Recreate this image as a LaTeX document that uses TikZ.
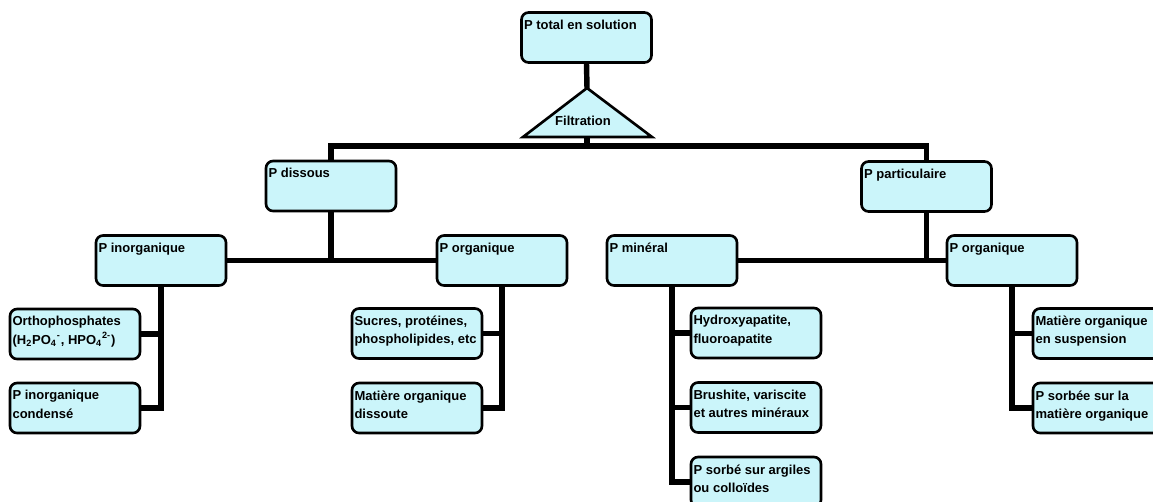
\documentclass[tikz,border=0pt]{standalone}
\usepackage{fontspec}
\setmainfont{Liberation Sans}
\definecolor{boxfill}{RGB}{203,245,250}
\tikzset{
  box/.style={draw=black, line width=1.5pt, rounded corners=0.14cm, fill=boxfill,
              minimum width=2.6cm, minimum height=1.0cm, inner sep=0pt},
  txt/.style={anchor=north west, inner sep=0pt, align=left, xshift=0.07cm, yshift=-0.17cm,
              font=\fontsize{7.4}{10.3}\selectfont\bfseries},
  conn/.style={line width=3.1pt, draw=black},
  tri/.style={draw=black, line width=1.5pt, fill=boxfill, line join=miter},
}
\begin{document}
\begin{tikzpicture}[x=0.02cm, y=-0.02cm]
\useasboundingbox (0,0) rectangle (1153,501);
\clip (0,0) rectangle (1153,501);
% triangle
\draw[tri] (523,137) -- (587,88) -- (652,137) -- cycle;
\coordinate (apex) at (587,88);
\coordinate (base) at (587,137);
\coordinate (bar) at (587,146);
\node[font=\fontsize{7.4}{9}\selectfont\bfseries, inner sep=0pt] (filt) at (583,121) {Filtration};
% boxes
\node[box, label={[txt]north west:{P total en solution}}] (total) at (586.5,37.5) {};
\node[box, label={[txt]north west:{P dissous}}] (dissous) at (331,186) {};
\node[box, label={[txt]north west:{P particulaire}}] (part) at (926.5,186.5) {};
\node[box, label={[txt]north west:{P inorganique}}] (inorg) at (161,260.5) {};
\node[box, label={[txt]north west:{P organique}}] (orga) at (502,260.5) {};
\node[box, label={[txt]north west:{P minéral}}] (miner) at (672,260.5) {};
\node[box, label={[txt]north west:{P organique}}] (orgb) at (1012,260.5) {};
\node[box, label={[txt]north west:{Orthophosphates\\(H\textsubscript{2}PO\textsubscript{4}\textsuperscript{-}, HPO\textsubscript{4}\textsuperscript{2-})}}] (ortho) at (75,334) {};
\node[box, label={[txt]north west:{P inorganique\\condensé}}] (cond) at (75,408) {};
\node[box, label={[txt]north west:{Sucres, protéines,\\phospholipides, etc}}] (sucres) at (417,333.5) {};
\node[box, label={[txt]north west:{Matière organique\\dissoute}}] (mod) at (417,408) {};
\node[box, label={[txt]north west:{Hydroxyapatite,\\fluoroapatite}}] (hydro) at (756,333) {};
\node[box, label={[txt]north west:{Brushite, variscite\\et autres minéraux}}] (brush) at (756,407.5) {};
\node[box, label={[txt]north west:{P sorbé sur argiles\\ou colloïdes}}] (argil) at (756,482) {};
\node[box, label={[txt]north west:{Matière organique\\en suspension}}] (mosusp) at (1098,333.5) {};
\node[box, label={[txt]north west:{P sorbée sur la\\matière organique}}] (psorb) at (1098,408) {};
% connectors
\draw[conn] (total.south) -- (apex);
\draw[conn] (base) -- (bar);
\draw[conn] (dissous.north) |- (bar) -| (part.north);
\draw[conn] (inorg.east) -- (orga.west);
\draw[conn] (dissous.south) -- (dissous.south |- inorg.east);
\draw[conn] (miner.east) -- (orgb.west);
\draw[conn] (part.south) -- (part.south |- orgb.west);
\draw[conn] (inorg.south) |- (ortho.east);
\draw[conn] (inorg.south) |- (cond.east);
\draw[conn] (orga.south) |- (sucres.east);
\draw[conn] (orga.south) |- (mod.east);
\draw[conn] (miner.south) |- (hydro.west);
\draw[conn] (miner.south) |- (brush.west);
\draw[conn] (miner.south) |- (argil.west);
\draw[conn] (orgb.south) |- (mosusp.west);
\draw[conn] (orgb.south) |- (psorb.west);
\end{tikzpicture}
\end{document}
